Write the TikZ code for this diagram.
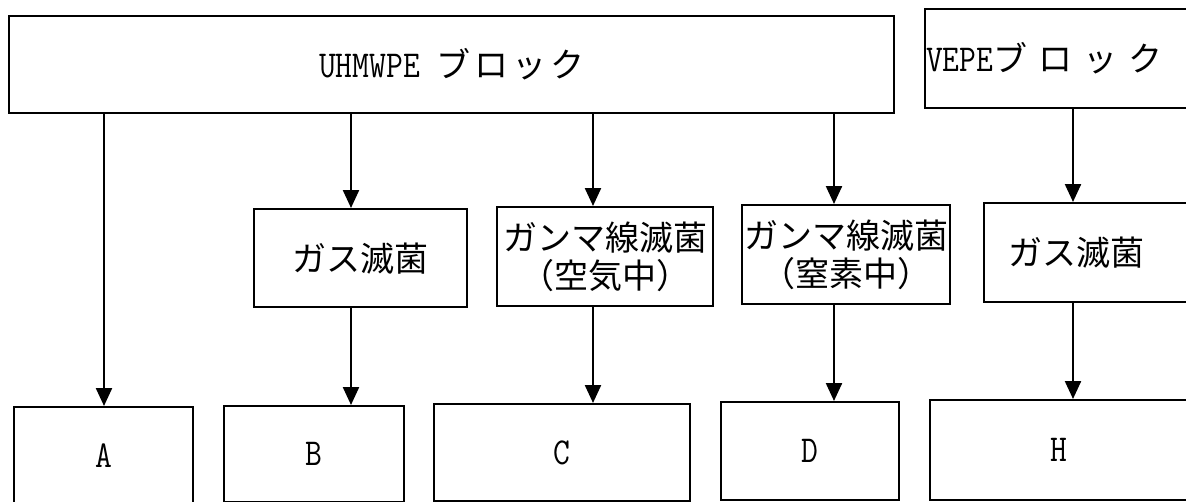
\documentclass[tikz,border=0pt]{standalone}
\usepackage{fontspec}
\newfontfamily\jp{Noto Sans CJK JP}
\usetikzlibrary{arrows.meta}
\newcommand{\lat}[1]{\scalebox{0.86}[1]{\ttfamily\fontsize{38}{40}\selectfont #1}}
\tikzset{
  box/.style={draw, line width=2.3pt, anchor=north west, inner sep=0pt, align=center,
    font=\jp\fontsize{34}{38}\selectfont},
  arr/.style={line width=2.3pt, -{Triangle[length=18pt,width=16pt]}},
}
\newcommand{\wsp}{\hspace{4pt}}
\newcommand{\vsp}{\hspace{11pt}}
\begin{document}
\begin{tikzpicture}[x=1pt,y=-1pt]
\useasboundingbox (0,0) rectangle (1186,501);
\node[box, minimum width=885pt, minimum height=97pt] (U) at (8,15)
  {\lat{UHMWPE}\hspace{16pt}ブ\wsp ロ\wsp ッ\wsp ク};
\node[box, minimum width=290pt, minimum height=99pt, text width=288pt, align=left] (V) at (924,8)
  {\lat{VEPE}ブ\vsp ロ\vsp ッ\vsp ク};
\node[box, minimum width=213pt, minimum height=98pt] (M1) at (253,208) {ガス滅菌};
\node[box, minimum width=216pt, minimum height=99pt] (M2) at (496,206)
  {ガンマ線滅菌\\（空気中）};
\node[box, minimum width=208pt, minimum height=99pt] (M3) at (741,204)
  {ガンマ線滅菌\\（窒素中）};
\node[box, minimum width=240pt, minimum height=99pt, text width=240pt, align=left] (M4) at (983,202)
  {\hspace{24pt}ガス滅菌};
\node[box, minimum width=179pt, minimum height=96pt] (A) at (13,406) {\lat{A}};
\node[box, minimum width=180pt, minimum height=96pt] (B) at (223,405) {\lat{B}};
\node[box, minimum width=256pt, minimum height=97pt] (C) at (433,403) {\lat{C}};
\node[box, minimum width=178pt, minimum height=98pt] (D) at (720,401) {\lat{D}};
\node[box, minimum width=257pt, minimum height=100pt] (H) at (929,399) {\lat{H}};
\coordinate (c1) at (104,0);
\coordinate (c2) at (351,0);
\coordinate (c3) at (593,0);
\coordinate (c4) at (834,0);
\coordinate (c5) at (1073,0);
\draw[arr] (U.south -| c1) -- (A.north -| c1);
\draw[arr] (U.south -| c2) -- (M1.north -| c2);
\draw[arr] (U.south -| c3) -- (M2.north -| c3);
\draw[arr] (U.south -| c4) -- (M3.north -| c4);
\draw[arr] (V.south -| c5) -- (M4.north -| c5);
\draw[arr] (M1.south -| c2) -- (B.north -| c2);
\draw[arr] (M2.south -| c3) -- (C.north -| c3);
\draw[arr] (M3.south -| c4) -- (D.north -| c4);
\draw[arr] (M4.south -| c5) -- (H.north -| c5);
\end{tikzpicture}
\end{document}
